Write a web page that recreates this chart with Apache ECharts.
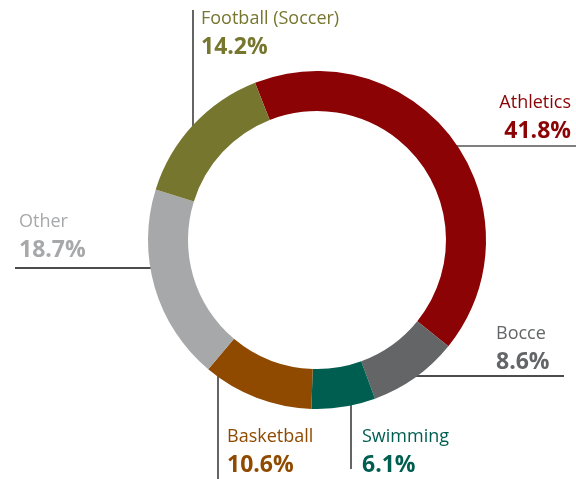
<!DOCTYPE html>
<html><head><meta charset="utf-8">
<script src="https://cdn.jsdelivr.net/npm/echarts@6/dist/echarts.min.js"></script>
<style>html,body{margin:0;padding:0;background:#fff}#c{width:576px;height:479px}</style>
</head><body><div id="c"></div>
<script>
const categories = ["Athletics", "Bocce", "Swimming", "Basketball", "Other", "Football (Soccer)"];
const values = [41.8, 8.6, 6.1, 10.6, 18.7, 14.2];
const colors = ["#8b0304", "#646567", "#005e50", "#8f4a00", "#a7a8aa", "#76762f"];
const lineColors = ["#555555", "#111111", "#111111", "#111111", "#111111", "#111111"];
// label anchor layout: [x, yTop, align, line start, line end]
const labelLayouts = [
  {x: 571, y: 92, align: "right", p1: [436, 146], p2: [576, 146]},
  {x: 496, y: 323, align: "left", p1: [404, 376], p2: [564, 376]},
  {x: 362, y: 426, align: "left", p1: [351, 395], p2: [351, 469]},
  {x: 227, y: 426, align: "left", p1: [218, 370], p2: [218, 479]},
  {x: 19, y: 211, align: "left", p1: [15, 268], p2: [169, 268]},
  {x: 201, y: 8, align: "left", p1: [193, 10], p2: [193, 142]}
];
const chart = echarts.init(document.getElementById('c'), null, {renderer: 'canvas'});
const data = categories.map((n, i) => ({
  name: n, value: values[i],
  itemStyle: {color: colors[i]},
  label: {
    rich: {
      n: {fontSize: 18, lineHeight: 22, color: colors[i], fontFamily: "Open Sans"},
      p: {fontSize: 23, lineHeight: 34, fontWeight: "bold", color: colors[i], fontFamily: "Open Sans"}
    }
  },
  labelLine: {lineStyle: {color: lineColors[i], width: 1.3}}
}));
chart.setOption({
  animation: false,
  series: [{
    type: 'pie',
    radius: [129, 169],
    center: [317, 240],
    startAngle: 111.5,
    clockwise: true,
    avoidLabelOverlap: false,
    itemStyle: {borderWidth: 0},
    label: {
      show: true, position: 'outside',
      formatter: p => '{n|' + p.name + '}\n{p|' + p.value.toFixed(1) + '%}'
    },
    labelLine: {show: true, smooth: false},
    labelLayout: params => {
      const L = labelLayouts[params.dataIndex];
      return {
        x: L.x, y: L.y, align: L.align, verticalAlign: 'top',
        labelLinePoints: [L.p1, L.p2, L.p2]
      };
    },
    data: data
  }]
});
</script></body></html>
